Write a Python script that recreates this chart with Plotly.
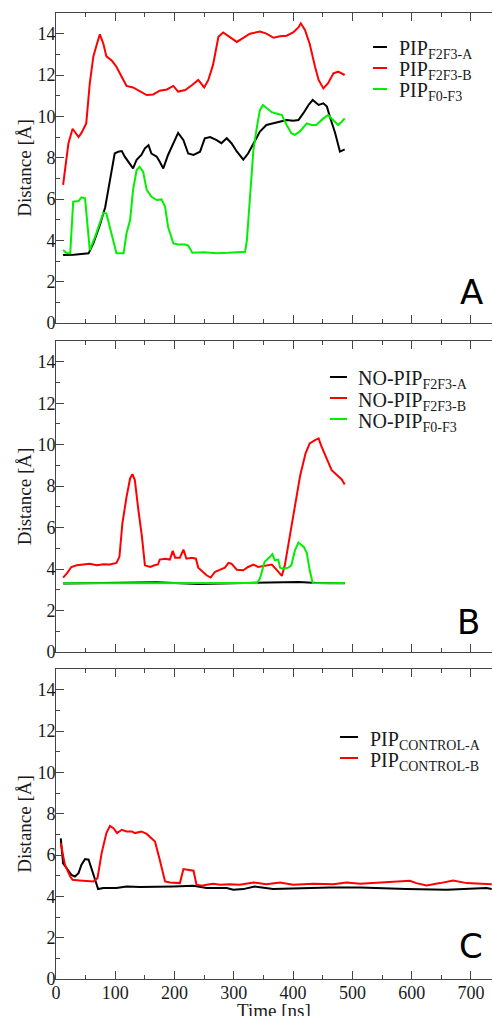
import plotly.graph_objects as go

# ---------------- data ----------------
# Panel A
a_black_t = [12, 30, 55, 63, 74, 83, 91, 99, 105, 111, 116, 125, 130, 136, 144, 150, 156, 161, 170, 175, 181, 189, 198, 206, 215, 223, 232, 243, 251, 260, 271, 279, 288, 296, 305, 316, 324, 336, 344, 355, 367, 378, 389, 400, 409, 417, 426, 433, 443, 451, 457, 462, 471, 479, 487]
a_black_v = [3.29, 3.3, 3.37, 3.85, 4.74, 5.6, 6.9, 8.2, 8.29, 8.32, 8.05, 7.65, 7.48, 7.9, 8.13, 8.45, 8.6, 8.2, 8.05, 7.8, 7.48, 8.13, 8.7, 9.2, 8.85, 8.2, 8.13, 8.29, 8.94, 9.0, 8.85, 8.7, 8.94, 8.7, 8.3, 7.9, 8.2, 8.85, 9.26, 9.58, 9.66, 9.74, 9.82, 9.79, 9.82, 10.14, 10.55, 10.79, 10.55, 10.63, 10.47, 9.98, 9.18, 8.29, 8.4]

a_red_t = [12, 21, 28, 38, 43, 51, 57, 63, 69, 74, 80, 85, 94, 102, 111, 119, 130, 142, 153, 164, 175, 187, 198, 206, 218, 229, 240, 250, 257, 265, 274, 282, 293, 305, 316, 327, 344, 355, 367, 378, 389, 400, 409, 413, 420, 428, 437, 443, 451, 459, 468, 476, 487]
a_red_v = [6.68, 8.7, 9.4, 9.0, 9.2, 9.66, 11.6, 12.9, 13.5, 13.97, 13.5, 12.9, 12.7, 12.4, 11.9, 11.47, 11.4, 11.2, 11.03, 11.06, 11.24, 11.3, 11.47, 11.2, 11.27, 11.5, 11.76, 11.4, 11.76, 12.5, 13.85, 14.06, 13.85, 13.6, 13.8, 14.0, 14.1, 14.0, 13.8, 13.87, 13.9, 14.06, 14.3, 14.5, 14.18, 13.5, 12.4, 11.76, 11.35, 11.6, 12.08, 12.16, 12.0]

a_green_t = [12, 18, 24, 29, 38, 43, 49, 57, 66, 74, 80, 85, 94, 102, 114, 119, 125, 130, 136, 141, 147, 153, 161, 170, 178, 184, 189, 198, 206, 218, 223, 230, 250, 270, 290, 310, 319, 322, 327, 333, 339, 344, 349, 355, 364, 372, 381, 389, 397, 403, 411, 423, 431, 439, 451, 459, 468, 476, 482, 487]
a_green_v = [3.53, 3.37, 3.37, 5.87, 5.9, 6.08, 6.03, 3.53, 4.18, 4.85, 5.34, 5.3, 4.34, 3.37, 3.37, 4.34, 4.98, 6.44, 7.4, 7.56, 7.32, 6.44, 6.11, 5.95, 5.98, 5.63, 4.66, 3.85, 3.8, 3.8, 3.75, 3.4, 3.42, 3.38, 3.4, 3.45, 3.45, 4.0, 5.95, 8.37, 9.5, 10.3, 10.55, 10.4, 10.2, 10.14, 10.06, 9.58, 9.18, 9.1, 9.26, 9.66, 9.58, 9.58, 9.9, 10.06, 9.82, 9.58, 9.74, 9.9]

# Panel B
b_black_t = [12, 100, 170, 240, 300, 360, 410, 440, 487]
b_black_v = [3.3, 3.32, 3.37, 3.28, 3.31, 3.33, 3.38, 3.33, 3.31]

b_red_t = [12, 18, 26, 35, 46, 57, 69, 80, 91, 102, 107, 112, 119, 125, 129, 133, 139, 145, 150, 159, 166, 172, 175, 184, 192, 197, 201, 209, 215, 220, 229, 236, 240, 248, 254, 261, 268, 277, 285, 291, 296, 305, 316, 324, 333, 341, 352, 364, 372, 381, 386, 392, 400, 406, 412, 421, 428, 437, 443, 448, 454, 459, 465, 471, 476, 482, 487]
b_red_v = [3.59, 3.78, 4.1, 4.18, 4.22, 4.26, 4.18, 4.23, 4.22, 4.3, 4.59, 6.2, 7.48, 8.37, 8.58, 8.29, 6.84, 5.55, 4.18, 4.1, 4.18, 4.22, 4.46, 4.5, 4.46, 4.88, 4.55, 4.55, 4.94, 4.5, 4.55, 4.5, 4.07, 3.86, 3.7, 3.59, 3.86, 3.97, 4.07, 4.3, 4.26, 3.97, 3.94, 4.1, 4.22, 4.1, 4.14, 4.22, 3.97, 3.67, 4.18, 5.23, 6.52, 7.48, 8.53, 9.58, 10.06, 10.22, 10.3, 9.9, 9.45, 9.17, 8.77, 8.61, 8.45, 8.32, 8.08]

b_green_t = [12, 100, 200, 300, 339, 344, 352, 361, 365, 369, 375, 378, 383, 392, 397, 403, 409, 418, 423, 428, 433, 460, 487]
b_green_v = [3.32, 3.33, 3.32, 3.33, 3.33, 3.54, 4.35, 4.59, 4.72, 4.43, 4.46, 4.07, 4.02, 4.07, 4.18, 4.9, 5.28, 5.07, 4.78, 3.94, 3.33, 3.32, 3.33]

# Panel C
c_black_t = [8, 12, 18, 26, 32, 38, 43, 49, 55, 60, 66, 71, 80, 102, 119, 142, 175, 198, 232, 254, 288, 299, 316, 335, 366, 400, 462, 513, 591, 659, 700, 726, 735]
c_black_v = [6.8, 5.6, 5.36, 5.04, 4.96, 5.12, 5.53, 5.8, 5.77, 5.28, 4.8, 4.35, 4.4, 4.4, 4.48, 4.45, 4.45, 4.48, 4.51, 4.4, 4.4, 4.32, 4.35, 4.48, 4.35, 4.38, 4.43, 4.43, 4.35, 4.32, 4.38, 4.4, 4.36]

c_red_t = [8, 15, 24, 28, 40, 52, 63, 70, 77, 85, 91, 97, 103, 111, 119, 128, 133, 144, 153, 161, 167, 175, 184, 192, 201, 209, 215, 223, 232, 237, 246, 254, 265, 277, 293, 310, 333, 355, 378, 400, 434, 468, 490, 513, 547, 580, 597, 608, 625, 648, 670, 693, 715, 735]
c_red_v = [6.57, 5.53, 4.96, 4.8, 4.77, 4.75, 4.72, 4.88, 6.09, 7.06, 7.41, 7.3, 7.06, 7.22, 7.14, 7.14, 7.06, 7.14, 7.02, 6.81, 6.65, 5.77, 4.72, 4.67, 4.64, 4.64, 5.32, 5.28, 5.24, 4.56, 4.51, 4.56, 4.61, 4.56, 4.59, 4.56, 4.67, 4.59, 4.67, 4.56, 4.61, 4.59, 4.67, 4.61, 4.67, 4.72, 4.75, 4.64, 4.53, 4.64, 4.77, 4.64, 4.61, 4.59]

names_a = ["PIP<sub>F2F3-A</sub>", "PIP<sub>F2F3-B</sub>", "PIP<sub>F0-F3</sub>"]
names_b = ["NO-PIP<sub>F2F3-A</sub>", "NO-PIP<sub>F2F3-B</sub>", "NO-PIP<sub>F0-F3</sub>"]
names_c = ["PIP<sub>CONTROL-A</sub>", "PIP<sub>CONTROL-B</sub>"]
panel_letters = ["A", "B", "C"]
x_title = "Time [ns]"
y_title = "Distance [Å]"

x_ticks = [0, 100, 200, 300, 400, 500, 600, 700]
y_ticks = [0, 2, 4, 6, 8, 10, 12, 14]

BLACK, RED, GREEN = "#000000", "#ff0000", "#00f000"
SERIF = "Liberation Serif"
TXT = "#1a1a1a"

# figure geometry (px)
W, H = 492, 1016
ML, MR, MT, MB = 56, 0, 13, 37
PW, PH = W - ML - MR, H - MT - MB

def px_x(px):
    return (px - ML) / PW

def px_y(py):
    return (H - MB - py) / PH

fig = go.Figure()

def add(t, v, name, color, xa, ya):
    fig.add_trace(go.Scatter(x=t, y=v, mode="lines", name=name,
                             line=dict(color=color, width=2),
                             xaxis=xa, yaxis=ya, showlegend=False))

add(a_black_t, a_black_v, names_a[0], BLACK, "x", "y")
add(a_red_t, a_red_v, names_a[1], RED, "x", "y")
add(a_green_t, a_green_v, names_a[2], GREEN, "x", "y")
add(b_black_t, b_black_v, names_b[0], BLACK, "x2", "y2")
add(b_red_t, b_red_v, names_b[1], RED, "x2", "y2")
add(b_green_t, b_green_v, names_b[2], GREEN, "x2", "y2")
add(c_black_t, c_black_v, names_c[0], BLACK, "x3", "y3")
add(c_red_t, c_red_v, names_c[1], RED, "x3", "y3")

AX = "#444444"
def xaxis(anchor, show_labels):
    return dict(range=[0, 735.5], tickvals=x_ticks, ticks="inside", ticklen=8, tickwidth=1,
                tickcolor=AX, showline=True, linecolor=AX, linewidth=1, mirror="ticks",
                showgrid=False, zeroline=False, showticklabels=show_labels, automargin=False,
                tickfont=dict(family=SERIF, size=18, color=TXT), ticklabelstandoff=-3,
                minor=dict(dtick=50, ticks="inside", ticklen=4, tickcolor=AX),
                anchor=anchor)

def yaxis(domain, anchor):
    return dict(domain=domain, range=[0, 15], tickvals=y_ticks, ticks="inside", ticklen=8,
                tickwidth=1, tickcolor=AX, showline=True, linecolor=AX, linewidth=1,
                showgrid=False, zeroline=False, anchor=anchor, automargin=False,
                tickfont=dict(family=SERIF, size=18, color=TXT), ticklabelstandoff=-4,
                minor=dict(dtick=1, ticks="inside", ticklen=4, tickcolor=AX),
                title=dict(text=y_title, font=dict(family=SERIF, size=19, color=TXT), standoff=0))

dom_a = [px_y(323), 1.0]
dom_b = [px_y(652), px_y(341)]
dom_c = [0.0, px_y(669)]

fig.update_layout(
    width=W, height=H, plot_bgcolor="white", paper_bgcolor="white",
    margin=dict(l=ML, r=MR, t=MT, b=MB, autoexpand=False),
    xaxis=xaxis("y", False), xaxis2=xaxis("y2", False), xaxis3=xaxis("y3", True),
    yaxis=yaxis(dom_a, "x"), yaxis2=yaxis(dom_b, "x2"), yaxis3=yaxis(dom_c, "x3"),
    showlegend=False,
)

# x-axis title of the bottom panel (partly cut by the page edge, as in the original)
fig.add_annotation(text=x_title, xref="paper", yref="paper", x=0.5, y=px_y(1010),
                   xanchor="center", yanchor="middle", showarrow=False,
                   font=dict(family=SERIF, size=19, color=TXT))

# legends drawn as keys: (line x0, line x1, text x, first row y, row step)
legend_specs = [
    (names_a, [BLACK, RED, GREEN], 373, 387, 397, 47, 21),
    (names_b, [BLACK, RED, GREEN], 330, 347, 356, 377, 21),
    (names_c, [BLACK, RED], 340, 358, 368, 737, 21),
]
for names, colors, lx0, lx1, tx, y0, dy in legend_specs:
    for i, (nm, col) in enumerate(zip(names, colors)):
        yy = y0 + i * dy
        fig.add_shape(type="line", xref="paper", yref="paper",
                      x0=px_x(lx0), x1=px_x(lx1), y0=px_y(yy), y1=px_y(yy),
                      line=dict(color=col, width=2))
        fig.add_annotation(text=nm, xref="paper", yref="paper", x=px_x(tx), y=px_y(yy + 3),
                           xanchor="left", yanchor="middle", showarrow=False,
                           font=dict(family=SERIF, size=20, color=TXT))

letter_pos = [(471, 292), (468, 622), (471, 946)]
for letter, (lx, ly) in zip(panel_letters, letter_pos):
    fig.add_annotation(text=letter, x=px_x(lx), y=px_y(ly), xref="paper", yref="paper",
                       showarrow=False, xanchor="center", yanchor="middle",
                       font=dict(family="DejaVu Sans", size=34, color="#000"))

fig.write_html("out.html")
